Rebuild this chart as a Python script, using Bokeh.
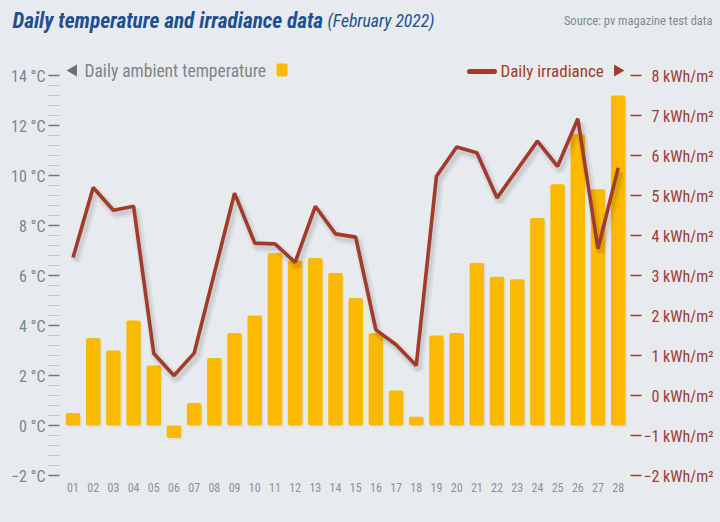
import numpy as np
from bokeh.plotting import figure
from bokeh.models import Range1d
from bokeh.core.properties import value
from bokeh.embed import file_html
from bokeh.resources import INLINE

# ---------------- data ----------------
day_labels = ["01", "02", "03", "04", "05", "06", "07", "08", "09", "10",
              "11", "12", "13", "14", "15", "16", "17", "18", "19", "20",
              "21", "22", "23", "24", "25", "26", "27", "28"]
days = [1, 2, 3, 4, 5, 6, 7, 8, 9, 10, 11, 12, 13, 14, 15, 16, 17, 18, 19, 20,
        21, 22, 23, 24, 25, 26, 27, 28]
temperature = [0.5, 3.5, 3.0, 4.2, 2.4, -0.5, 0.9, 2.7, 3.7, 4.4,
               6.9, 6.6, 6.7, 6.1, 5.1, 3.7, 1.4, 0.35, 3.6, 3.7,
               6.5, 5.95, 5.85, 8.3, 9.65, 11.65, 9.45, 13.2]
irradiance = [3.45, 5.2, 4.63, 4.73, 1.05, 0.5, 1.06, 3.06, 5.06, 3.81,
              3.79, 3.33, 4.73, 4.04, 3.96, 1.64, 1.27, 0.75, 5.48, 6.21,
              6.07, 4.94, 5.65, 6.36, 5.73, 6.92, 3.67, 5.69]
temp_ticks = [-2, 0, 2, 4, 6, 8, 10, 12, 14]
temp_tick_labels = ["\u22122 \u00b0C", "0 \u00b0C", "2 \u00b0C", "4 \u00b0C", "6 \u00b0C",
                    "8 \u00b0C", "10 \u00b0C", "12 \u00b0C", "14 \u00b0C"]
irr_ticks = [-2, -1, 0, 1, 2, 3, 4, 5, 6, 7, 8]
irr_tick_labels = ["\u22122 kWh/m\u00b2", "\u22121 kWh/m\u00b2", "0 kWh/m\u00b2", "1 kWh/m\u00b2",
                   "2 kWh/m\u00b2", "3 kWh/m\u00b2", "4 kWh/m\u00b2", "5 kWh/m\u00b2",
                   "6 kWh/m\u00b2", "7 kWh/m\u00b2", "8 kWh/m\u00b2"]

# ---------------- style / layout ----------------
BG = "#E7EBEE"
BAR = "#FBB900"
RED = "#A33B2B"
RED_TXT = "#9E3B30"
BLUE = "#1D4F91"
GREY = "#7C858B"
FONT = value("Roboto Condensed, Roboto")

W, H = 720, 522
FL, FR, FT, FB = 60, 630, 75, 475          # plotting box in pixels
X0, X1 = 0.38, 28.61                       # day range across the box
T0, T1 = -2, 14                            # temperature range across the box
I0, I1 = -2, 8                             # irradiance range across the box
kx = (X1 - X0) / (FR - FL)
kt = (T1 - T0) / (FB - FT)
ki = (I1 - I0) / (FB - FT)


def dx(px):
    return X0 + (px - FL) * kx


def dt(py):
    return T0 + (FB - py) * kt


def di(py):
    return I0 + (FB - py) * ki


p = figure(width=W, height=H, output_backend="svg", toolbar_location=None,
           x_range=Range1d(dx(0), dx(W)), y_range=Range1d(dt(H), dt(0)),
           min_border=0, x_axis_location=None, y_axis_location=None,
           background_fill_color=BG, border_fill_color=BG, outline_line_color=None)
p.title.visible = False
p.extra_y_ranges = {"irr": Range1d(di(H), di(0))}
p.grid.visible = False

# bars (with a faint shadow)
p.vbar(x=[d + 0.08 for d in days], top=[t - 0.08 for t in temperature], bottom=-0.08,
       width=0.72, fill_color="#000000", fill_alpha=0.04, line_color=None,
       border_radius=2)
p.vbar(x=days, top=temperature, bottom=0, width=0.72, fill_color=BAR,
       line_color=None, border_radius=2)

# irradiance line with soft shadow
sh_x = [d + 0.12 for d in days]
sh_y = [v - 0.1 for v in irradiance]
p.line(sh_x, sh_y, y_range_name="irr", line_color="#000000", line_alpha=0.05,
       line_width=10)
p.line(sh_x, sh_y, y_range_name="irr", line_color="#000000", line_alpha=0.07,
       line_width=5)
p.line(days, irradiance, y_range_name="irr", line_color=RED, line_width=3.6)

# left axis ticks (major + minor)
minor = [float(v) for v in np.round(np.arange(T0, T1 + 0.01, 0.4), 2)
         if all(abs(v - t) > 1e-6 for t in temp_ticks)]
p.segment(x0=dx(48), x1=dx(59), y0=minor, y1=minor, line_color="#BFC4C8",
          line_width=1)
p.segment(x0=dx(48), x1=dx(59), y0=temp_ticks, y1=temp_ticks,
          line_color="#6C757B", line_width=1.5)
p.text(x=dx(45), y=temp_ticks, text=temp_tick_labels, text_align="right",
       text_baseline="alphabetic", y_offset=1, text_font=FONT,
       text_font_size="16px", text_color=GREY)

# right axis ticks
p.segment(x0=dx(630), x1=dx(641), y0=irr_ticks, y1=irr_ticks, y_range_name="irr",
          line_color=RED_TXT, line_width=1.5)
p.text(x=dx(713), y=irr_ticks, text=irr_tick_labels, y_range_name="irr",
       text_align="right", text_baseline="alphabetic", y_offset=1, text_font=FONT,
       text_font_size="16px", text_color=RED_TXT)

# x labels
p.text(x=days, y=dt(487), text=day_labels, text_align="center",
       text_baseline="middle", text_font=FONT, text_font_size="12px",
       text_color="#8A9297")

# title and source
p.text(x=[dx(12)], y=[dt(20)], text=["Daily temperature and irradiance data"],
       text_baseline="middle", text_font=FONT, text_font_size="21.3px",
       text_font_style="bold italic", text_color=BLUE)
p.text(x=[dx(327)], y=[dt(20)], text=["(February 2022)"],
       text_baseline="middle", text_font=FONT, text_font_size="17.6px",
       text_font_style="italic", text_color=BLUE)
p.text(x=[dx(712)], y=[dt(20)], text=["Source: pv magazine test data"],
       text_align="right", text_baseline="middle", text_font=FONT,
       text_font_size="12.5px", text_color="#80888E")

# legend: temperature
p.scatter(x=[dx(73)], y=[dt(70)], marker="triangle", angle=np.pi / 2, size=12,
          fill_color="#66717A", line_color=None)
p.text(x=[dx(84)], y=[dt(70)], text=["Daily ambient temperature"],
       text_baseline="middle", text_font=FONT, text_font_size="17.5px",
       text_color=GREY)
p.quad(left=[dx(276)], right=[dx(287)], top=[dt(63)], bottom=[dt(76)],
       fill_color=BAR, line_color=None, border_radius=2)

# legend: irradiance
p.segment(x0=[dx(469)], x1=[dx(494)], y0=[dt(71)], y1=[dt(71)], line_color=RED,
          line_width=5, line_cap="round")
p.text(x=[dx(500)], y=[dt(70)], text=["Daily irradiance"],
       text_baseline="middle", text_font=FONT, text_font_size="17px",
       text_color=RED)
p.scatter(x=[dx(617)], y=[dt(70)], marker="triangle", angle=-np.pi / 2, size=12,
          fill_color=RED, line_color=None)

html = file_html(p, INLINE)
html = html.replace("<body>", "<body style=\"background:%s\">" % BG)
open("out.html", "w").write(html)
